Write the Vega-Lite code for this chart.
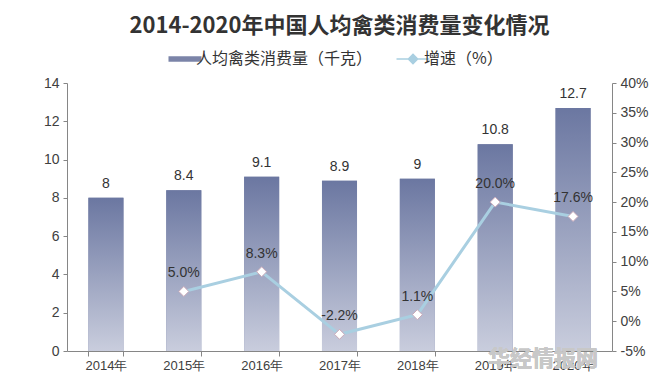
{
  "$schema": "https://vega.github.io/schema/vega-lite/v6.json",
  "width": 545,
  "height": 268,
  "autosize": {"type": "none"},
  "padding": {"left": 67, "top": 83, "right": 53, "bottom": 23},
  "background": "white",
  "title": {
    "text": "2014-2020年中国人均禽类消费量变化情况",
    "font": "Noto Sans CJK SC",
    "fontSize": 22,
    "fontWeight": "bold",
    "color": "#333333",
    "anchor": "middle",
    "offset": 13
  },
  "data": {
    "values": [
      {"year": "2014年", "value": 8, "growth": null},
      {"year": "2015年", "value": 8.4, "growth": 0.05},
      {"year": "2016年", "value": 9.1, "growth": 0.083},
      {"year": "2017年", "value": 8.9, "growth": -0.022},
      {"year": "2018年", "value": 9, "growth": 0.011},
      {"year": "2019年", "value": 10.8, "growth": 0.2},
      {"year": "2020年", "value": 12.7, "growth": 0.176}
    ]
  },
  "encoding": {
    "x": {
      "field": "year",
      "type": "nominal",
      "sort": null,
      "scale": {"paddingInner": 0.55, "paddingOuter": 0.275},
      "axis": {
        "title": null,
        "labelAngle": 0,
        "labelFontSize": 13,
        "labelColor": "#404040",
        "labelFont": "Liberation Sans",
        "domainColor": "#868686",
        "tickColor": "#868686",
        "tickSize": 5,
        "tickBand": "extent",
        "labelPadding": 3
      }
    }
  },
  "layer": [
    {
      "encoding": {
        "y": {
          "field": "value",
          "type": "quantitative",
          "scale": {"domain": [0, 14], "nice": false},
          "axis": {
            "title": null,
            "values": [0, 2, 4, 6, 8, 10, 12, 14],
            "grid": false,
            "labelFontSize": 14,
            "labelColor": "#404040",
            "labelFont": "Liberation Sans",
            "domainColor": "#868686",
            "tickColor": "#868686",
            "tickSize": 4,
            "labelPadding": 4
          }
        }
      },
      "layer": [
        {
          "mark": {"type": "bar"},
          "encoding": {
            "color": {
              "datum": "人均禽类消费量（千克）",
              "type": "nominal",
              "scale": {
                "domain": ["人均禽类消费量（千克）", "增速（%）"],
                "range": ["#7b84a8", "#a9cfe1"]
              },
              "legend": {
                "title": null,
                "orient": "top",
                "direction": "horizontal",
                "labelFontSize": 16,
                "labelFont": "Noto Sans CJK SC",
                "labelColor": "#333333",
                "labelLimit": 400,
                "symbolSize": 1089,
                "columnPadding": 20,
                "labelOffset": 3,
                "offset": 16,
                "encode": {
                  "symbols": {
                    "update": {
                      "shape": {"signal": "datum.value === '增速（%）' ? 'M-1,0L-0.28,0M0.28,0L1,0M-0.28,0L0,-0.28L0.28,0L0,0.28Z' : 'M-1,-0.16L1,-0.16L1,0.16L-1,0.16Z'"},
                      "fill": {"signal": "datum.value === '增速（%）' ? '#ffffff' : '#7b84a8'"},
                      "stroke": {"signal": "datum.value === '增速（%）' ? '#a9cfe1' : '#7b84a8'"},
                      "strokeWidth": {"signal": "datum.value === '增速（%）' ? 1.5 : 0"},
                      "opacity": {"value": 1}
                    }
                  }
                }
              }
            }
          }
        },
        {
          "mark": {
            "type": "bar",
            "color": {
              "gradient": "linear",
              "x1": 0, "y1": 0, "x2": 0, "y2": 1,
              "stops": [
                {"offset": 0, "color": "#6b77a1"},
                {"offset": 1, "color": "#c9cddd"}
              ]
            }
          }
        },
        {
          "mark": {"type": "text", "dy": -14, "fontSize": 14, "font": "Liberation Sans", "color": "#333333"},
          "encoding": {
            "text": {"field": "value", "type": "quantitative", "format": ".1~f"}
          }
        },
        {
          "mark": {"type": "text", "text": "华经情报网", "fontSize": 22, "fontWeight": "bold", "font": "Noto Sans CJK SC", "color": "#c8c8c8", "opacity": 0.75, "dx": -30, "dy": 8},
          "encoding": {
            "x": {"datum": "2020年"},
            "y": {"datum": 0}
          }
        }
      ]
    },
    {
      "transform": [{"filter": "datum.growth !== null"}],
      "encoding": {
        "y": {
          "field": "growth",
          "type": "quantitative",
          "scale": {"domain": [-0.05, 0.4], "nice": false, "zero": false},
          "axis": {
            "title": null,
            "orient": "right",
            "format": ".0%",
            "values": [-0.05, 0, 0.05, 0.1, 0.15, 0.2, 0.25, 0.3, 0.35, 0.4],
            "grid": false,
            "labelFontSize": 14,
            "labelColor": "#404040",
            "labelFont": "Liberation Sans",
            "domainColor": "#868686",
            "tickColor": "#868686",
            "tickSize": 4,
            "labelPadding": 4
          }
        }
      },
      "layer": [
        {
          "mark": {"type": "line", "strokeWidth": 3},
          "encoding": {
            "color": {"datum": "增速（%）", "type": "nominal"}
          }
        },
        {
          "mark": {"type": "point", "shape": "diamond", "size": 100, "filled": true, "fill": "#ffffff", "stroke": "#caa9b8", "strokeWidth": 1, "opacity": 1}
        },
        {
          "mark": {"type": "text", "dy": -18, "fontSize": 14, "font": "Liberation Sans", "color": "#333333"},
          "encoding": {
            "text": {"field": "growth", "type": "quantitative", "format": ".1%"}
          }
        }
      ]
    }
  ],
  "resolve": {"scale": {"y": "independent"}},
  "config": {
    "view": {"stroke": null},
    "legend": {"layout": {"top": {"anchor": "middle"}}},
    "locale": {
      "number": {"decimal": ".", "thousands": ",", "grouping": [3], "currency": ["$", ""], "minus": "-"}
    }
  }
}
